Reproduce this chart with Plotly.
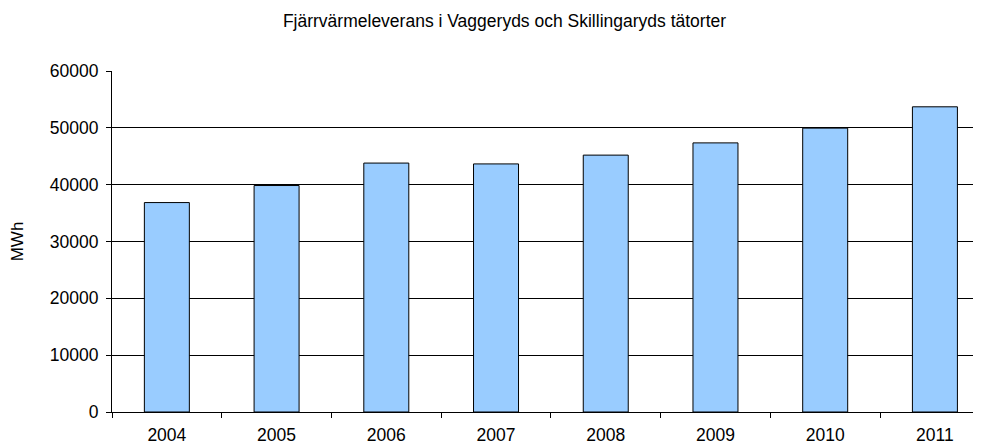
import plotly.graph_objects as go

years = ["2004", "2005", "2006", "2007", "2008", "2009", "2010", "2011"]
mwh = [36850, 39850, 43800, 43650, 45200, 47350, 49950, 53700]
title_text = "Fjärrvärmeleverans i Vaggeryds och Skillingaryds tätorter"
y_title = "MWh"

font = "Arial, Liberation Sans, sans-serif"

# page body has an 8px default margin; size the figure so it fits the window
W, H = 973, 437

fig = go.Figure(go.Bar(
    x=years, y=mwh,
    marker=dict(color="#99CCFF", line=dict(color="black", width=1)),
))

fig.update_layout(
    width=W, height=H,
    margin=dict(l=104, r=0, t=63, b=33),
    paper_bgcolor="white", plot_bgcolor="white",
    bargap=0.59,
    showlegend=False,
    title=dict(text=title_text, x=(504.5 - 8) / W, xref="container", xanchor="center",
               y=1 - 13 / H, yref="container", yanchor="middle",
               font=dict(family=font, size=17.5, color="black")),
    font=dict(family=font, color="black"),
)
# the reference's plot area runs past the right edge of the picture,
# so the last category is partly cut off
fig.update_xaxes(
    type="category", range=[-0.5, 7.42],
    showline=True, linecolor="black", linewidth=1,
    ticks="outside", tickson="boundaries", ticklen=5, tickcolor="black",
    tickfont=dict(size=17.5, color="black"), showgrid=False, automargin=False,
    ticklabelstandoff=7,
)
fig.update_yaxes(
    range=[0, 60000], dtick=10000, tickformat="d",
    showline=True, linecolor="black", linewidth=1,
    ticks="outside", ticklen=5, tickcolor="black",
    showgrid=True, gridcolor="black", gridwidth=1, zeroline=False,
    tickfont=dict(size=17.5, color="black"), ticklabelstandoff=4,
    title=dict(text=y_title, font=dict(size=17, color="black"), standoff=33),
    automargin=False,
)

fig.write_html("out.html")
